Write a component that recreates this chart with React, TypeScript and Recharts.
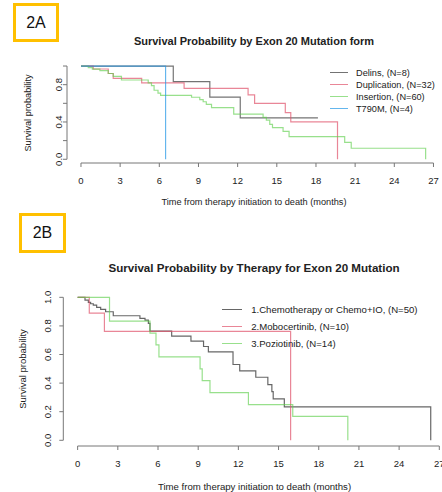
import React from 'react';
import { LineChart, Line, XAxis, YAxis, ReferenceLine } from 'recharts';

// ---- data (months, survival probability) ----
const xTicks = [0, 3, 6, 9, 12, 15, 18, 21, 24, 27];
const yTicks = [0, 0.2, 0.4, 0.6, 0.8, 1];

// 2A: by mutation form
const delinsT = [0, 7.07, 9.87, 12.2, 18.15];
const delinsS = [1, 0.833, 0.667, 0.444, 0.444];

const dupT = [0, 0.94, 2.09, 2.47, 4.65, 7.9, 12.8, 13.3, 15.65, 16.07, 19.65];
const dupS = [1, 0.968, 0.92, 0.868, 0.82, 0.76, 0.69, 0.6, 0.5, 0.4, 0];

const insT = [0, 0.56, 0.87, 1.45, 2.09, 2.47, 3.1, 5.15, 5.4, 5.6, 5.9, 6.1, 8.47, 9.1, 9.36, 9.6, 10.0, 11.7, 13.95, 14.2, 14.46, 14.67, 15.48, 15.94, 20.2, 20.7, 26.4];
const insS = [1, 0.983, 0.967, 0.95, 0.92, 0.89, 0.85, 0.82, 0.79, 0.74, 0.71, 0.686, 0.665, 0.64, 0.617, 0.589, 0.553, 0.485, 0.45, 0.42, 0.375, 0.34, 0.3, 0.242, 0.182, 0.118, 0];

const t790T = [0, 6.48];
const t790S = [1, 0];

// 2B: by therapy
const chemoT = [0, 0.55, 0.8, 0.97, 1.17, 1.42, 1.72, 2.09, 2.66, 4.65, 5.03, 5.28, 5.4, 7.02, 8.46, 9.4, 9.76, 11.6, 12.1, 13.3, 14.2, 14.5, 14.6, 15.43, 26.36];
const chemoS = [1, 0.98, 0.965, 0.955, 0.945, 0.93, 0.916, 0.899, 0.871, 0.853, 0.841, 0.818, 0.764, 0.729, 0.694, 0.656, 0.618, 0.53, 0.486, 0.441, 0.39, 0.34, 0.29, 0.234, 0];

const moboT = [0, 0.87, 2.0, 15.9];
const moboS = [1, 0.889, 0.762, 0];

const pozT = [0, 2.38, 5.4, 5.85, 6.07, 9.14, 9.3, 9.88, 12.75, 16.06, 20.17];
const pozS = [1, 0.833, 0.75, 0.667, 0.583, 0.5, 0.417, 0.333, 0.25, 0.167, 0];

const seriesA = [
  { name: 'Delins, (N=8)', color: 'rgba(0,0,0,0.55)', t: delinsT, s: delinsS },
  { name: 'Duplication, (N=32)', color: 'rgba(223,83,107,0.7)', t: dupT, s: dupS },
  { name: 'Insertion, (N=60)', color: 'rgba(97,208,79,0.65)', t: insT, s: insS },
  { name: 'T790M, (N=4)', color: 'rgba(34,151,230,0.7)', t: t790T, s: t790S },
];

const seriesB = [
  { name: '1.Chemotherapy or Chemo+IO, (N=50)', color: 'rgba(0,0,0,0.6)', t: chemoT, s: chemoS },
  { name: '2.Mobocertinib, (N=10)', color: 'rgba(223,83,107,0.7)', t: moboT, s: moboS },
  { name: '3.Poziotinib, (N=14)', color: 'rgba(97,208,79,0.65)', t: pozT, s: pozS },
];

const FONT = '"Liberation Sans", Arial, Helvetica, sans-serif';
const AXIS = '#777';
const TEXT = '#222';
const X_MIN = -1.07;
const X_MAX = 27.5;
const Y_MIN = -0.04;
const Y_MAX = 1.04;

const toPoints = (t: number[], s: number[]) => t.map((v, i) => ({ t: v, s: s[i] }));

const XTick = (props: any) => {
  const { x, y, payload } = props;
  return (
    <g>
      <line x1={x} x2={x} y1={y} y2={y + 4} stroke={AXIS} />
      <text x={x} y={y + 17} textAnchor="middle" dominantBaseline="central" fontSize={9.5} fill={TEXT} fontFamily={FONT}>
        {payload.value}
      </text>
    </g>
  );
};

const makeYTick = (shown: number[], gap: number) => (props: any) => {
  const { x, y, payload } = props;
  const v = payload.value;
  const lx = x - gap;
  return (
    <g>
      <line x1={x} x2={x - 4} y1={y} y2={y} stroke={AXIS} />
      {shown.includes(v) && (
        <text
          x={lx}
          y={y}
          transform={`rotate(-90, ${lx}, ${y})`}
          textAnchor="middle"
          dominantBaseline="central"
          fontSize={9.5}
          fill={TEXT}
          fontFamily={FONT}
        >
          {v.toFixed(1)}
        </text>
      )}
    </g>
  );
};

const KMChart = ({ series, width, height, margin, yAxisWidth, yTick }: any) => (
  <LineChart width={width} height={height} margin={margin}>
    <XAxis
      dataKey="t"
      type="number"
      domain={[X_MIN, X_MAX]}
      ticks={xTicks}
      allowDataOverflow
      axisLine={false}
      tickLine={false}
      tickSize={0}
      tickMargin={0}
      height={30}
      tick={<XTick />}
      interval={0}
    />
    <YAxis
      type="number"
      domain={[Y_MIN, Y_MAX]}
      ticks={yTicks}
      allowDataOverflow
      axisLine={false}
      tickLine={false}
      tickSize={0}
      tickMargin={0}
      width={yAxisWidth}
      tick={yTick}
      interval={0}
    />
    <ReferenceLine segment={[{ x: 0, y: Y_MIN }, { x: 27, y: Y_MIN }]} stroke={AXIS} ifOverflow="visible" />
    <ReferenceLine segment={[{ x: X_MIN, y: 0 }, { x: X_MIN, y: 1 }]} stroke={AXIS} ifOverflow="visible" />
    {series.map((sr: any) => (
      <Line
        key={sr.name}
        data={toPoints(sr.t, sr.s)}
        dataKey="s"
        type="stepAfter"
        stroke={sr.color}
        strokeWidth={1.2}
        dot={false}
        activeDot={false}
        isAnimationActive={false}
      />
    ))}
  </LineChart>
);

const Centered = ({ x, y, size, bold, rotate, children }: any) => (
  <div
    style={{
      position: 'absolute',
      left: x,
      top: y,
      transform: `translate(-50%, -50%)${rotate ? ' rotate(-90deg)' : ''}`,
      fontSize: size,
      fontWeight: bold ? 'bold' : 'normal',
      whiteSpace: 'nowrap',
      color: TEXT,
      lineHeight: 1,
    }}
  >
    {children}
  </div>
);

const Badge = ({ left, top, w, h, label }: any) => (
  <div
    style={{
      position: 'absolute',
      left,
      top,
      width: w,
      height: h,
      boxSizing: 'border-box',
      border: '3px solid #FFC000',
      display: 'flex',
      alignItems: 'center',
      justifyContent: 'center',
      fontSize: 16,
      color: '#111',
    }}
  >
    {label}
  </div>
);

const LegendBlock = ({ series, left, top, lineW, gap, rowH, size }: any) => (
  <div style={{ position: 'absolute', left, top }}>
    {series.map((sr: any) => (
      <div key={sr.name} style={{ display: 'flex', alignItems: 'center', height: rowH }}>
        <div style={{ width: lineW, height: 0, borderTop: `1.3px solid ${sr.color}`, marginRight: gap }} />
        <span style={{ fontSize: size, color: TEXT, whiteSpace: 'nowrap' }}>{sr.name}</span>
      </div>
    ))}
  </div>
);

export default function App() {
  return (
    <div
      style={{
        position: 'absolute',
        left: 0,
        top: 0,
        width: 442,
        height: 492,
        overflow: 'hidden',
        background: '#fff',
        fontFamily: FONT,
      }}
    >
      {/* 2A */}
      <Badge left={13} top={3} w={46} h={39} label="2A" />
      <Centered x={254} y={41} size={11} bold>
        Survival Probability by Exon 20 Mutation form
      </Centered>
      <div style={{ position: 'absolute', left: 0, top: 0 }}>
        <KMChart
          series={seriesA}
          width={442}
          height={215}
          margin={{ top: 62.3, right: 2, bottom: 22, left: 0 }}
          yAxisWidth={67}
          yTick={makeYTick([0, 0.4, 0.8], 8)}
        />
      </div>
      <Centered x={29} y={113} size={9.2} rotate>
        Survival probability
      </Centered>
      <Centered x={254} y={203} size={9.2}>
        Time from therapy initiation to death (months)
      </Centered>
      <LegendBlock series={seriesA} left={330} top={66.7} lineW={18} gap={8} rowH={12} size={9.2} />

      {/* 2B */}
      <Badge left={19} top={213} w={47} h={40} label="2B" />
      <Centered x={254} y={268} size={11.6} bold>
        Survival Probability by Therapy for Exon 20 Mutation
      </Centered>
      <div style={{ position: 'absolute', left: 0, top: 200 }}>
        <KMChart
          series={seriesB}
          width={450}
          height={292}
          margin={{ top: 91.6, right: 4, bottom: 16, left: 0 }}
          yAxisWidth={63.3}
          yTick={makeYTick([0, 0.2, 0.4, 0.6, 0.8, 1], 16)}
        />
      </div>
      <Centered x={23} y={368.5} size={9.5} rotate>
        Survival probability
      </Centered>
      <Centered x={254.5} y={486.5} size={9.6}>
        Time from therapy initiation to death (months)
      </Centered>
      <LegendBlock series={seriesB} left={221.7} top={300.5} lineW={20} gap={9.5} rowH={17} size={9.6} />
    </div>
  );
}
